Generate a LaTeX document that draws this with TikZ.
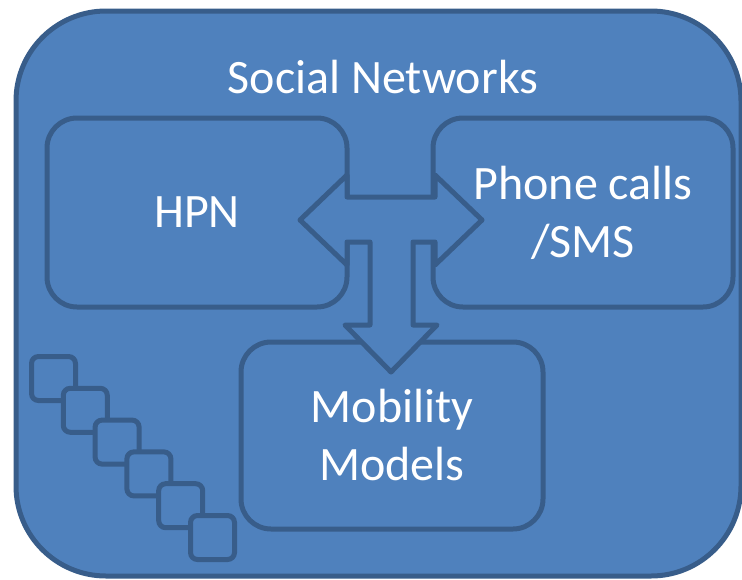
\documentclass[tikz,border=0pt]{standalone}
\usepackage{fontspec}
\setmainfont{Carlito}
\definecolor{shapefill}{HTML}{4F81BD}
\definecolor{shapeline}{HTML}{385D8A}
\begin{document}
\begin{tikzpicture}[x=1pt,y=-1pt,
  shape base/.style={draw=shapeline, fill=shapefill, line width=5pt,
    inner sep=0pt, outer sep=0pt},
  panel/.style={shape base, rounded corners=30pt, text=white, align=center,
    font=\fontsize{48}{58}\selectfont},
  tile/.style={shape base, rounded corners=7pt, minimum width=44pt, minimum height=44pt},
  caption/.style={text=white, inner sep=0pt, font=\fontsize{48}{58}\selectfont}]
  \useasboundingbox (0,0) rectangle (742,579);

  % outer container
  \node[shape base, rounded corners=90pt, minimum width=725pt, minimum height=565pt]
    (net) at (378.5,293.5) {};
  \node[caption] (title) at (383,77) {Social Networks};

  % inner panels
  \node[panel, minimum width=300pt, minimum height=189pt] (hpn) at (197,212.5) {HPN};
  \node[panel, minimum width=300pt, minimum height=189pt] (phone) at (583,212.5)
    {Phone calls\\/SMS};
  \node[panel, minimum width=302pt, minimum height=187pt] (mob) at (392,435.5)
    {Mobility\\Models};

  % staircase of small tiles
  \foreach \i in {0,...,5}
    \node[tile] (sq\i) at ({53.5+31.8*\i},{378.5+31.8*\i}) {};

  % T-shaped block arrow joining the panels
  \draw[shape base, line join=round]
    (300,220) -- (347,175) -- (347,197) -- (435,197) -- (435,175) -- (482,220)
    -- (435,265) -- (435,242) -- (413,242) -- (413,325) -- (437,325) -- (391,372)
    -- (345,325) -- (370,325) -- (370,242) -- (347,242) -- (347,265) -- cycle;
\end{tikzpicture}
\end{document}
